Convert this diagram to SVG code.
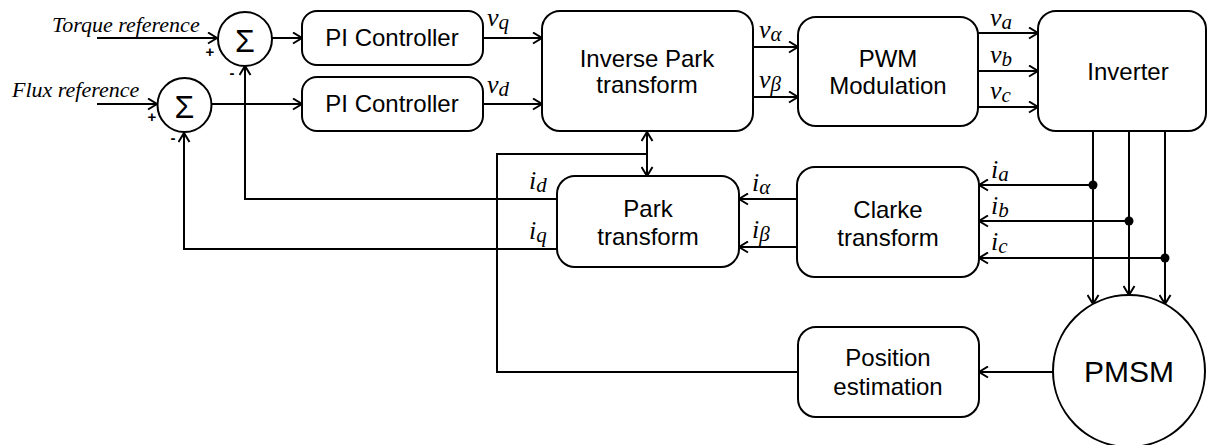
<svg xmlns="http://www.w3.org/2000/svg" width="1209" height="445" viewBox="0 0 1209 445">
<style>
.box{fill:#fff;stroke:#000;stroke-width:2}
.t{font-family:"Liberation Sans",Arial,sans-serif;font-size:24px;text-anchor:middle;fill:#000}
.lbl{font-family:"Liberation Serif","Times New Roman",serif;font-style:italic;font-size:26px;fill:#000}
.sub{font-size:21px}
.ref{font-family:"Liberation Serif","Times New Roman",serif;font-style:italic;font-size:22px;fill:#000}
.sign{font-family:"Liberation Sans",Arial,sans-serif;font-weight:bold;font-size:15px;text-anchor:middle;fill:#000}
.sig{font-family:"Liberation Sans",Arial,sans-serif;font-size:32px;text-anchor:middle;fill:#000}
.w{fill:none;stroke:#000;stroke-width:2}
.a{marker-end:url(#arr)}
</style>
<defs>
<marker id="arr" markerUnits="userSpaceOnUse" markerWidth="13" markerHeight="13" refX="11" refY="6.5" orient="auto-start-reverse">
<path d="M2,1 L11,6.5 L2,12" fill="none" stroke="#000" stroke-width="2"/>
</marker>
</defs>
<rect width="1209" height="445" fill="#fff"/>

<g id="connectors">
<path class="w a" d="M97,38 H217"/>
<path class="w a" d="M97,104 H157"/>
<path class="w a" d="M272,38 H302"/>
<path class="w a" d="M212,104 H302"/>
<path class="w a" d="M483,38 H542"/>
<path class="w a" d="M483,104 H542"/>
<path class="w a" d="M753,47 H798"/>
<path class="w a" d="M753,97 H798"/>
<path class="w a" d="M978,33 H1038"/>
<path class="w a" d="M978,71 H1038"/>
<path class="w a" d="M978,107 H1038"/>
<path class="w a" d="M1093,131 V304"/>
<path class="w a" d="M1129,131 V295"/>
<path class="w a" d="M1165,131 V304"/>
<path class="w a" d="M1093,185 H979"/>
<path class="w a" d="M1129,221 H979"/>
<path class="w a" d="M1165,258 H979"/>
<circle cx="1093" cy="185" r="4.5" fill="#000"/>
<circle cx="1129" cy="221" r="4.5" fill="#000"/>
<circle cx="1165" cy="258" r="4.5" fill="#000"/>
<path class="w a" d="M797,199 H739"/>
<path class="w a" d="M797,247 H739"/>
<path class="w a" d="M557,199 H245 V66"/>
<path class="w a" d="M557,249 H184 V133"/>
<path class="w a" d="M1053,372 H979"/>
<path class="w" d="M798,372 H497 V154 H647"/>
<path class="w a" d="M647,154 V132"/>
<path class="w a" d="M647,154 V176"/>
</g>

<g id="sum1">
<circle cx="245" cy="39" r="27" class="box"/>
<text x="245" y="52" class="sig">Σ</text>
<text x="210" y="57" class="sign">+</text>
<text x="232" y="78" class="sign">-</text>
</g>
<g id="sum2">
<circle cx="184.5" cy="105" r="27" class="box"/>
<text x="184.5" y="118" class="sig">Σ</text>
<text x="152" y="122" class="sign">+</text>
<text x="173" y="143" class="sign">-</text>
</g>

<g id="refs">
<text x="52" y="32" class="ref">Torque reference</text>
<text x="12" y="97" class="ref">Flux reference</text>
</g>

<g id="pi1">
<rect x="302" y="11" width="181" height="54" rx="15" class="box"/>
<text x="392" y="46" class="t">PI Controller</text>
</g>
<g id="pi2">
<rect x="302" y="77" width="181" height="54" rx="15" class="box"/>
<text x="392" y="112" class="t">PI Controller</text>
</g>
<g id="invpark">
<rect x="542" y="11" width="211" height="120" rx="18" class="box"/>
<text x="647" y="67" class="t">Inverse Park</text>
<text x="647" y="93" class="t">transform</text>
</g>
<g id="pwm">
<rect x="798" y="17" width="180" height="109" rx="18" class="box"/>
<text x="888" y="67" class="t">PWM</text>
<text x="888" y="94" class="t">Modulation</text>
</g>
<g id="inverter">
<rect x="1038" y="11" width="168" height="120" rx="18" class="box"/>
<text x="1128" y="80" class="t">Inverter</text>
</g>
<g id="park">
<rect x="557" y="176" width="182" height="91" rx="18" class="box"/>
<text x="648" y="217" class="t">Park</text>
<text x="648" y="245" class="t">transform</text>
</g>
<g id="clarke">
<rect x="797" y="167" width="182" height="110" rx="18" class="box"/>
<text x="888" y="218" class="t">Clarke</text>
<text x="888" y="246" class="t">transform</text>
</g>
<g id="position">
<rect x="798" y="327" width="181" height="90" rx="18" class="box"/>
<text x="888" y="366" class="t">Position</text>
<text x="888" y="395" class="t">estimation</text>
</g>
<g id="pmsm">
<circle cx="1129" cy="371" r="76" class="box"/>
<text x="1129" y="382" class="t" style="font-size:30px">PMSM</text>
</g>

<g id="labels">
<text x="487" y="26" class="lbl">v<tspan class="sub" dy="3">q</tspan></text>
<text x="487" y="93" class="lbl">v<tspan class="sub" dy="3">d</tspan></text>
<text x="759" y="38" class="lbl">v<tspan class="sub" dy="3">α</tspan></text>
<text x="759" y="88" class="lbl">v<tspan class="sub" dy="3">β</tspan></text>
<text x="990" y="26" class="lbl">v<tspan class="sub" dy="3">a</tspan></text>
<text x="990" y="63" class="lbl">v<tspan class="sub" dy="3">b</tspan></text>
<text x="990" y="99" class="lbl">v<tspan class="sub" dy="3">c</tspan></text>
<text x="991" y="178" class="lbl">i<tspan class="sub" dy="3">a</tspan></text>
<text x="991" y="214" class="lbl">i<tspan class="sub" dy="3">b</tspan></text>
<text x="991" y="250" class="lbl">i<tspan class="sub" dy="3">c</tspan></text>
<text x="752" y="191" class="lbl">i<tspan class="sub" dy="3">α</tspan></text>
<text x="752" y="238" class="lbl">i<tspan class="sub" dy="3">β</tspan></text>
<text x="529" y="189" class="lbl">i<tspan class="sub" dy="3">d</tspan></text>
<text x="529" y="239" class="lbl">i<tspan class="sub" dy="3">q</tspan></text>
</g>
</svg>
